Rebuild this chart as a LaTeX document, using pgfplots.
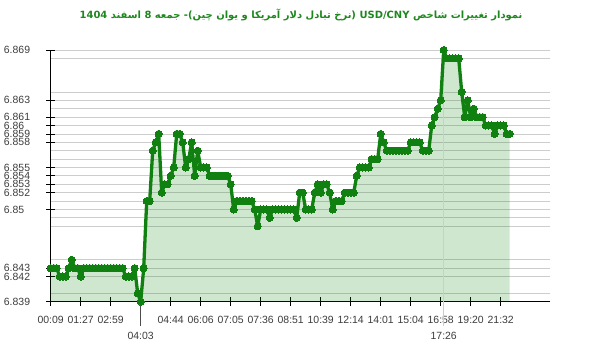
\documentclass[border=0pt]{standalone}
\usepackage{pgfplots}
\usepackage{pgfplotstable}
\pgfplotsset{compat=1.18}
\usepackage{fontspec}
\setmainfont{Liberation Sans}
\newfontfamily\arabicfont[Script=Arabic]{DejaVu Sans}
\TeXXeTstate=1
\definecolor{lineg}{RGB}{16,128,16}
\definecolor{titleg}{RGB}{30,135,30}
\definecolor{gridc}{RGB}{205,205,205}
\definecolor{labc}{RGB}{60,60,60}
\pgfplotstableread{
i v
0 6.843
1 6.843
2 6.843
3 6.842
4 6.842
5 6.842
6 6.843
7 6.844
8 6.843
9 6.843
10 6.842
11 6.843
12 6.843
13 6.843
14 6.843
15 6.843
16 6.843
17 6.843
18 6.843
19 6.843
20 6.843
21 6.843
22 6.843
23 6.843
24 6.843
25 6.842
26 6.842
27 6.842
28 6.843
29 6.840
30 6.839
31 6.843
32 6.851
33 6.851
34 6.857
35 6.858
36 6.859
37 6.852
38 6.853
39 6.853
40 6.854
41 6.855
42 6.859
43 6.859
44 6.858
45 6.855
46 6.856
47 6.858
48 6.854
49 6.857
50 6.855
51 6.855
52 6.855
53 6.854
54 6.854
55 6.854
56 6.854
57 6.854
58 6.854
59 6.854
60 6.853
61 6.850
62 6.851
63 6.851
64 6.851
65 6.851
66 6.851
67 6.851
68 6.850
69 6.848
70 6.850
71 6.850
72 6.850
73 6.849
74 6.850
75 6.850
76 6.850
77 6.850
78 6.850
79 6.850
80 6.850
81 6.850
82 6.849
83 6.852
84 6.852
85 6.850
86 6.850
87 6.850
88 6.852
89 6.853
90 6.852
91 6.853
92 6.853
93 6.852
94 6.850
95 6.851
96 6.851
97 6.851
98 6.852
99 6.852
100 6.852
101 6.852
102 6.854
103 6.855
104 6.855
105 6.855
106 6.855
107 6.856
108 6.856
109 6.856
110 6.859
111 6.858
112 6.857
113 6.857
114 6.857
115 6.857
116 6.857
117 6.857
118 6.857
119 6.857
120 6.858
121 6.858
122 6.858
123 6.858
124 6.857
125 6.857
126 6.857
127 6.860
128 6.861
129 6.862
130 6.863
131 6.869
132 6.868
133 6.868
134 6.868
135 6.868
136 6.868
137 6.864
138 6.861
139 6.863
140 6.861
141 6.862
142 6.861
143 6.861
144 6.861
145 6.860
146 6.860
147 6.860
148 6.859
149 6.860
150 6.860
151 6.860
152 6.859
153 6.859
}\datatable
\begin{document}
\begin{tikzpicture}
\path[use as bounding box] (0bp,0bp) rectangle (600bp,-352bp);
\node[font=\arabicfont\bfseries\fontsize{10}{12}\selectfont, text=titleg, inner sep=0pt] at (301bp,-15bp) {\beginR نمودار تغییرات شاخص USD/CNY (نرخ تبادل دلار آمریکا و یوان چین)- جمعه 8 اسفند 1404\endR};
\begin{axis}[
  at={(50.7bp,-301.7bp)}, anchor=south west,
  scale only axis, width=499.3bp, height=251.7bp,
  xmin=0, xmax=166.43, ymin=6.839, ymax=6.869,
  axis x line*=bottom, axis y line*=left,
  axis line style={black, line width=0.8bp},
  clip=false,
  tick align=center, major tick length=9bp,
  tick style={black, line width=0.8bp},
  minor tick length=0pt,
  /pgf/number format/assume math mode=true,
  ticklabel style={font=\fontsize{10.5}{12}\selectfont, text=labc},
  xtick={0,10,20,40,50,60,70,80,90,100,110,120,130,140,150},
  xticklabels={00:09,01:27,02:59,04:44,06:06,07:05,07:36,08:51,10:39,12:14,14:01,15:04,16:58,19:20,21:32},
  xticklabel style={yshift=-6bp},
  extra x ticks={30,131},
  extra x tick labels={04:03,17:26},
  extra x tick style={major tick length=0pt, xticklabel style={yshift=-21bp}},
  ytick={6.839,6.842,6.843,6.85,6.852,6.853,6.854,6.855,6.858,6.859,6.86,6.861,6.863,6.869},
  yticklabels={6.839,6.842,6.843,6.85,6.852,6.853,6.854,6.855,6.858,6.859,6.86,6.861,6.863,6.869},
  minor ytick={6.840,6.844,6.848,6.849,6.851,6.856,6.857,6.862,6.864,6.868},
  ymajorgrids, yminorgrids,
  major grid style={gridc, line width=0.8bp},
  minor grid style={gridc, line width=0.8bp},
  yticklabel style={anchor=west, inner sep=0pt, xshift=-42.5bp},
]
\addplot[draw=none, fill=lineg, fill opacity=0.2] table[x=i, y=v] {\datatable} \closedcycle;
\draw[gridc, line width=1bp] (axis cs:131,6.869) -- ([yshift=-24bp]axis cs:131,6.839);
\draw[black!70, line width=0.8bp] (axis cs:30,6.839) -- ([yshift=-24bp]axis cs:30,6.839);
\addplot[lineg, line width=3.3bp, line join=round, line cap=round, mark=*, mark size=3.6bp, mark options={fill=lineg, draw=lineg, line width=0pt}] table[x=i, y=v] {\datatable};
\end{axis}
\end{tikzpicture}
\end{document}
